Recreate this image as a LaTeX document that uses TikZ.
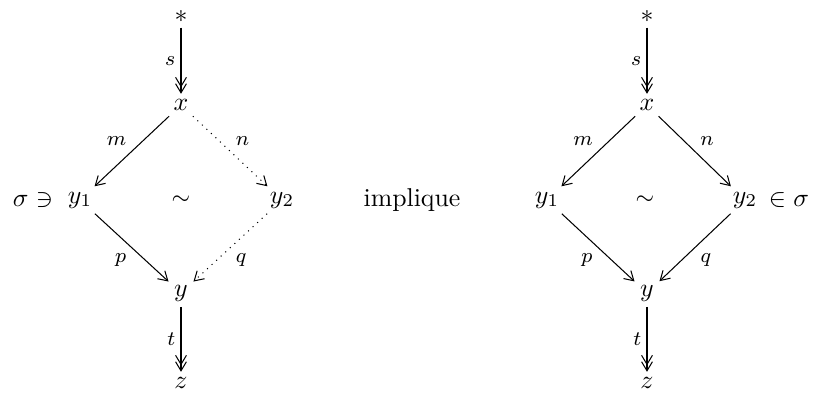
\documentclass[tikz,border=0pt]{standalone}
\usepackage{amssymb}
\usetikzlibrary{arrows.meta}
\tikzset{
  barb/.tip={Straight Barb[length=3.5pt,width=4.2pt,line width=0.4pt]},
}
\begin{document}
\begin{tikzpicture}[x=0.3876pt,y=-0.3876pt,
  obj/.style={inner sep=2pt},
  lbl/.style={font=\footnotesize, inner sep=2pt},
  arr/.style={-{barb}, line width=0.4pt},
  darr/.style={-{barb[sep=-1.6pt]barb}, line width=0.4pt},
  dotarr/.style={-{barb}, dotted, line width=0.4pt}]
\useasboundingbox (0,0) rectangle (814,399);
% left diagram
\node[obj] (s1) at (181,16) {$*$};
\node[obj] (x1) at (181,105) {$x$};
\node[obj] (ya1) at (80,200) {$y_1$};
\node[obj] (yb1) at (282,200) {$y_2$};
\node[obj,font=\small] (t1) at (181,200) {$\sim$};
\node[obj] (sig1) at (33,200) {$\sigma\ni$};
\node[obj] (y1) at (181,293) {$y$};
\node[obj] (z1) at (181,383) {$z$};
\draw[darr] (s1) -- node[lbl,left] {$s$} (x1);
\draw[arr] (x1) -- node[lbl,above left] {$m$} (ya1);
\draw[dotarr] (x1) -- node[lbl,above right] {$n$} (yb1);
\draw[arr] (ya1) -- node[lbl,below left] {$p$} (y1);
\draw[dotarr] (yb1) -- node[lbl,below right] {$q$} (y1);
\draw[darr] (y1) -- node[lbl,left] {$t$} (z1);
% middle
\node[obj] (impl) at (412,200) {implique};
% right diagram
\node[obj] (s2) at (647,16) {$*$};
\node[obj] (x2) at (647,105) {$x$};
\node[obj] (ya2) at (547,200) {$y_1$};
\node[obj] (yb2) at (745,200) {$y_2$};
\node[obj,font=\small] (t2) at (645,200) {$\sim$};
\node[obj] (sig2) at (789,200) {$\in\sigma$};
\node[obj] (y2) at (647,293) {$y$};
\node[obj] (z2) at (647,383) {$z$};
\draw[darr] (s2) -- node[lbl,left] {$s$} (x2);
\draw[arr] (x2) -- node[lbl,above left] {$m$} (ya2);
\draw[arr] (x2) -- node[lbl,above right] {$n$} (yb2);
\draw[arr] (ya2) -- node[lbl,below left] {$p$} (y2);
\draw[arr] (yb2) -- node[lbl,below right] {$q$} (y2);
\draw[darr] (y2) -- node[lbl,left] {$t$} (z2);
\end{tikzpicture}
\end{document}
